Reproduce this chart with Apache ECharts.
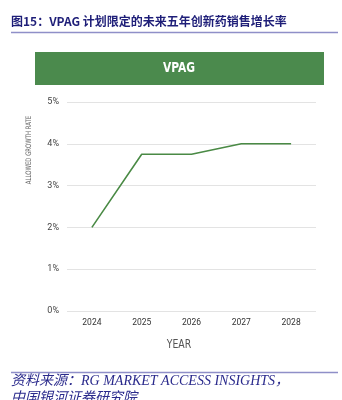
<!DOCTYPE html>
<html>
<head>
<meta charset="utf-8">
<script src="https://cdn.jsdelivr.net/npm/echarts@6/dist/echarts.min.js"></script>
<style>html,body{margin:0;padding:0;background:#fff;}#c{width:342px;height:400px;}</style>
</head>
<body>
<div id="c"></div>
<script>
var years = ['2024', '2025', '2026', '2027', '2028'];
var growthRate = [2, 3.75, 3.75, 4, 4];
var yTicks = [0, 1, 2, 3, 4, 5];
var titleText = '图15：VPAG 计划限定的未来五年创新药销售增长率';
var bannerText = 'VPAG';
var yAxisTitle = 'ALLOWED GROWTH RATE';
var xAxisTitle = 'YEAR';
var sourceLine1 = '资料来源：RG MARKET ACCESS INSIGHTS，';
var sourceLine2 = '中国银河证券研究院';

var chart = echarts.init(document.getElementById('c'), null, {renderer: 'canvas'});
var narrow = '"DejaVu Sans Condensed","Liberation Sans Narrow",Roboto,sans-serif';
chart.setOption({
  animation: false,
  backgroundColor: '#fff',
  grid: {left: 67, right: 26, top: 102, bottom: 89},
  xAxis: {
    type: 'category',
    data: years,
    boundaryGap: true,
    axisLine: {show: false},
    axisTick: {show: false},
    axisLabel: {color: '#333', fontSize: 8.5, fontFamily: 'Roboto, sans-serif', margin: 7}
  },
  yAxis: {
    type: 'value',
    min: yTicks[0],
    max: yTicks[yTicks.length - 1],
    interval: 1,
    axisLine: {show: false},
    axisTick: {show: false},
    splitLine: {lineStyle: {color: '#e3e3e3', width: 1}},
    axisLabel: {color: '#444', fontSize: 9, fontFamily: 'Roboto, sans-serif', margin: 8, formatter: '{value}%'}
  },
  series: [{
    type: 'line',
    data: growthRate,
    symbol: 'none',
    lineStyle: {color: '#4a8a45', width: 1.6},
    itemStyle: {color: '#4a8a45'}
  }],
  graphic: [
    {type: 'text', left: 11, top: 15, style: {text: titleText, fill: '#1e1e78', font: 'bold 12px "Noto Sans CJK SC", serif'}},
    {type: 'line', shape: {x1: 11, y1: 32.5, x2: 338, y2: 32.5}, style: {stroke: '#8f8fc8', lineWidth: 1.5}},
    {type: 'rect', shape: {x: 35, y: 52, width: 289, height: 33}, style: {fill: '#4b8a4d'}},
    {type: 'text', x: 179, y: 68.5, scaleX: 0.85, style: {text: bannerText, fill: '#fff', font: 'bold 14px ' + narrow, align: 'center', verticalAlign: 'middle'}},
    {type: 'text', x: 29, y: 150, rotation: Math.PI / 2, scaleX: 0.8, style: {text: yAxisTitle, fill: '#666', font: '7.5px ' + narrow, align: 'center', verticalAlign: 'middle'}},
    {type: 'text', x: 179, y: 345, scaleX: 0.8, style: {text: xAxisTitle, fill: '#555', font: '13px ' + narrow, align: 'center', verticalAlign: 'middle'}},
    {type: 'line', shape: {x1: 11, y1: 372.5, x2: 338, y2: 372.5}, style: {stroke: '#8f8fc8', lineWidth: 1.5}},
    {type: 'text', left: 11, top: 374, style: {text: sourceLine1, fill: '#2a2a8c', font: 'italic 14px "Liberation Serif", "Noto Sans CJK SC", serif'}},
    {type: 'text', left: 11, top: 391, style: {text: sourceLine2, fill: '#2a2a8c', font: 'italic 14px "Liberation Serif", "Noto Sans CJK SC", serif'}}
  ]
});
</script>
</body>
</html>
